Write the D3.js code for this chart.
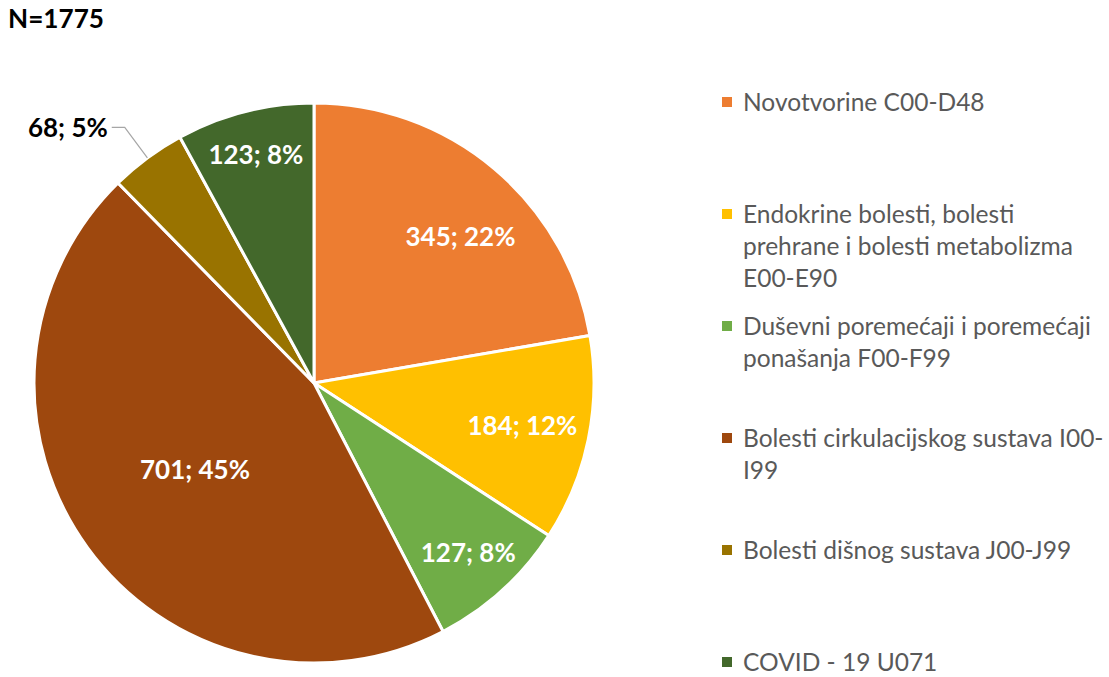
<!DOCTYPE html>
<html><head><meta charset="utf-8">
<script src="https://cdn.jsdelivr.net/npm/d3@7"></script>
<style>body{margin:0;background:#fff;} svg{display:block;}</style>
</head><body>
<svg id="chart" width="1109" height="677"></svg>
<script>
const title = "N=1775";
const categories = [
  "Novotvorine C00-D48",
  "Endokrine bolesti, bolesti prehrane i bolesti metabolizma E00-E90",
  "Duševni poremećaji i poremećaji ponašanja F00-F99",
  "Bolesti cirkulacijskog sustava I00-I99",
  "Bolesti dišnog sustava J00-J99",
  "COVID - 19 U071"
];
const legendLines = [
  ["Novotvorine C00-D48"],
  ["Endokrine bolesti, bolesti", "prehrane i bolesti metabolizma", "E00-E90"],
  ["Duševni poremećaji i poremećaji", "ponašanja F00-F99"],
  ["Bolesti cirkulacijskog sustava I00-", "I99"],
  ["Bolesti dišnog sustava J00-J99"],
  ["COVID - 19 U071"]
];
const values = [345, 184, 127, 701, 68, 123];
const percents = [22, 12, 8, 45, 5, 8];
const colors = ["#ED7D31", "#FFC000", "#70AD47", "#9E480E", "#997300", "#43682B"];

// layout (style) constants
const labelRadiusFrac = [0.74, 0.76, 0.82, 0.525, null, 0.84];
const FONT = "Lato, 'Open Sans', sans-serif";
const svg = d3.select("#chart");
const cx = 314, cy = 383, R = 280;

function fitSize(text, weight, targetW) {
  const t = svg.append("text").attr("font-family", FONT).attr("font-weight", weight)
    .attr("font-size", 100).text(text);
  const w = t.node().getComputedTextLength();
  t.remove();
  return 100 * targetW / w;
}

svg.append("text").attr("x", 8).attr("y", 28)
  .attr("font-family", FONT).attr("font-weight", "bold")
  .attr("font-size", fitSize(title, "bold", 96)).attr("fill", "#000").text(title);

const pie = d3.pie().sort(null).value(d => d)(values);
const arc = d3.arc().innerRadius(0).outerRadius(R);
const g = svg.append("g").attr("transform", `translate(${cx},${cy})`);

g.selectAll("path.slice").data(pie).join("path")
  .attr("class", "slice")
  .attr("d", arc)
  .attr("fill", (d, i) => colors[i])
  .attr("stroke", "#fff").attr("stroke-width", 3).attr("stroke-linejoin", "round");

const labelSize = fitSize("345; 22%", "bold", 110);
pie.forEach((d, i) => {
  const txt = `${values[i]}; ${percents[i]}%`;
  const mid = (d.startAngle + d.endAngle) / 2;
  if (labelRadiusFrac[i] !== null) {
    const lr = R * labelRadiusFrac[i];
    let ang = mid;
    if (i === 0) ang = Math.PI / 4;
    g.append("text")
      .attr("x", lr * Math.sin(ang)).attr("y", -lr * Math.cos(ang))
      .attr("text-anchor", "middle").attr("dy", "0.36em")
      .attr("font-family", FONT).attr("font-weight", "bold")
      .attr("font-size", labelSize).attr("fill", "#fff").text(txt);
  } else {
    const p0 = [R * Math.sin(mid), -R * Math.cos(mid)];
    const re = R * 1.136;
    const p1 = [re * Math.sin(mid), -re * Math.cos(mid)];
    const p2 = [p1[0] - 13, p1[1]];
    g.append("polyline")
      .attr("points", [p0, p1, p2].map(p => p.join(",")).join(" "))
      .attr("fill", "none").attr("stroke", "#A6A6A6").attr("stroke-width", 1.2);
    g.append("text")
      .attr("x", p2[0] - 4).attr("y", p2[1])
      .attr("text-anchor", "end").attr("dy", "0.36em")
      .attr("font-family", FONT).attr("font-weight", "bold")
      .attr("font-size", labelSize).attr("fill", "#000").text(txt);
  }
});

const legSize = fitSize("prehrane i bolesti metabolizma", "normal", 330);
const leg = svg.append("g");
const legY = d3.scaleLinear().domain([0, categories.length - 1]).range([102, 662]);
categories.forEach((c, i) => {
  const y0 = legY(i);
  leg.append("rect").attr("x", 722).attr("y", y0 - 5).attr("width", 10).attr("height", 10)
    .attr("fill", colors[i]);
  legendLines[i].forEach((line, j) => {
    leg.append("text").attr("x", 743).attr("y", y0 + j * 32).attr("dy", "0.35em")
      .attr("font-family", FONT).attr("font-size", legSize).attr("fill", "#595959").text(line);
  });
});
</script>
</body></html>
